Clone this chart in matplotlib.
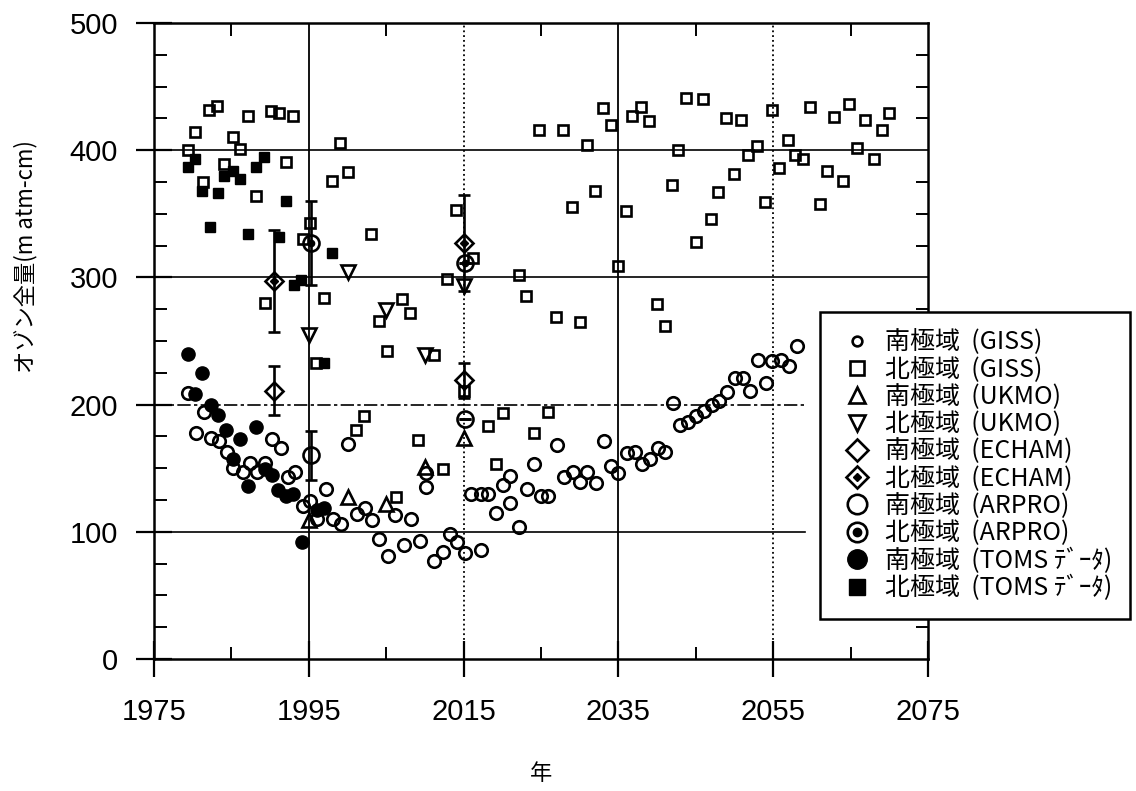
import matplotlib
matplotlib.use('Agg')
import matplotlib.pyplot as plt
from matplotlib.lines import Line2D
from matplotlib.ticker import FixedLocator
from matplotlib.font_manager import FontProperties

plt.rcParams['font.family'] = ['Liberation Sans', 'Noto Sans CJK JP', 'DejaVu Sans']

# ---------------- data (year, total ozone m atm-cm) ----------------
giss_south_year = [1979.4, 1980.4, 1981.4, 1982.3, 1983.4, 1984.4, 1985.2, 1986.5, 1987.4, 1988.3,
                   1989.3, 1990.3, 1991.4, 1992.3, 1993.2, 1994.2, 1995.2, 1996.1, 1997.2, 1998.1,
                   1999.2, 2000.1, 2001.2, 2002.3, 2003.1, 2004.1, 2005.2, 2006.1, 2007.3, 2008.2,
                   2009.3, 2010.1, 2010.1, 2011.2, 2012.3, 2013.2, 2014.2, 2015.2, 2016.0, 2017.2,
                   2017.2, 2018.2, 2019.2, 2020.1, 2021.0, 2021.0, 2022.2, 2023.2, 2024.1, 2025.0,
                   2025.9, 2027.1, 2028.0, 2029.1, 2030.1, 2031.0, 2032.1, 2033.1, 2034.0, 2035.0,
                   2036.1, 2037.1, 2038.0, 2039.1, 2040.1, 2041.0, 2042.0, 2042.9, 2044.0, 2045.0,
                   2046.1, 2047.1, 2048.0, 2049.0, 2050.0, 2051.1, 2052.0, 2053.0, 2054.1, 2054.9,
                   2056.0, 2057.1, 2058.1]
giss_south_val = [209, 178, 194, 174, 171, 163, 150, 147, 154, 147,
                  154, 173, 166, 143, 147, 120, 124, 110, 134, 110,
                  106, 169, 114, 119, 109, 94, 81, 113, 90, 110,
                  93, 146, 135, 77, 84, 98, 92, 83, 130, 86,
                  130, 130, 115, 137, 123, 144, 104, 134, 153, 128,
                  128, 168, 143, 147, 139, 147, 138, 171, 152, 146,
                  162, 163, 153, 157, 166, 163, 201, 184, 186, 191,
                  195, 200, 203, 210, 221, 221, 211, 235, 217, 234,
                  235, 230, 246]

giss_north_year = [1979.4, 1980.3, 1981.3, 1982.1, 1983.1, 1984.1, 1985.2, 1986.1, 1987.1, 1988.2,
                   1989.3, 1990.1, 1991.2, 1992.1, 1993.0, 1994.2, 1995.1, 1995.9, 1997.0, 1998.0,
                   1999.0, 2000.0, 2001.1, 2002.1, 2003.0, 2004.1, 2005.1, 2006.3, 2007.1, 2008.1,
                   2009.1, 2011.2, 2012.3, 2012.9, 2014.0, 2015.0, 2016.2, 2018.2, 2019.2, 2020.1,
                   2022.1, 2023.1, 2024.1, 2024.8, 2025.9, 2027.0, 2027.8, 2029.0, 2030.1, 2030.9,
                   2032.0, 2033.0, 2034.0, 2035.0, 2036.0, 2036.8, 2037.9, 2038.9, 2040.0, 2041.0,
                   2041.9, 2042.7, 2043.7, 2045.0, 2045.9, 2047.0, 2047.9, 2048.9, 2049.9, 2050.8,
                   2051.8, 2052.9, 2053.9, 2054.8, 2055.8, 2056.9, 2057.8, 2058.9, 2059.8, 2061.0,
                   2062.0, 2062.9, 2064.0, 2064.8, 2065.8, 2066.9, 2068.0, 2069.0, 2070.0]
giss_north_val = [400, 414, 375, 432, 435, 389, 410, 401, 427, 364,
                  280, 431, 429, 391, 427, 330, 343, 233, 284, 376,
                  406, 383, 180, 191, 334, 266, 242, 127, 283, 272,
                  172, 239, 149, 299, 353, 211, 315, 183, 153, 193,
                  302, 285, 178, 416, 194, 269, 416, 355, 265, 404,
                  368, 433, 420, 309, 352, 427, 434, 423, 279, 262,
                  373, 400, 441, 328, 440, 346, 367, 425, 381, 424,
                  396, 403, 359, 432, 386, 408, 396, 393, 434, 358,
                  384, 426, 376, 436, 402, 424, 393, 416, 429]

ukmo_south_year = [1995, 2000, 2005, 2010, 2015]
ukmo_south_val = [109, 127, 122, 151, 174]
ukmo_north_year = [1995, 2000, 2005, 2010, 2015]
ukmo_north_val = [255, 304, 274, 239, 293]

echam_south_year = [1990.5, 2015]
echam_south_val = [211, 219]
echam_south_err = [19, 14]
echam_north_year = [1990.5, 2015]
echam_north_val = [297, 327]
echam_north_err = [40, 38]

arpro_south_year = [1995.3, 2015.2]
arpro_south_val = [160, 189]
arpro_south_err = [19, 0]
arpro_north_year = [1995.3, 2015.2]
arpro_north_val = [327, 311]
arpro_north_err = [33, 0]

toms_south_year = [1979.4, 1980.3, 1981.2, 1982.3, 1983.2, 1984.3, 1985.2, 1986.1, 1987.1, 1988.2,
                   1989.3, 1990.2, 1991.0, 1992.1, 1993.0, 1994.1, 1996.1, 1997.0]
toms_south_val = [240, 208, 225, 200, 192, 180, 157, 173, 136, 182,
                  149, 145, 133, 128, 130, 92, 117, 119]
toms_north_year = [1979.4, 1980.3, 1981.2, 1982.2, 1983.2, 1984.1, 1985.2, 1986.1, 1987.1, 1988.2,
                   1989.2, 1991.2, 1992.1, 1993.1, 1994.0, 1997.0, 1998.0]
toms_north_val = [387, 393, 368, 340, 366, 380, 384, 377, 334, 387,
                  395, 332, 360, 294, 298, 233, 319]

labels = ['南極域  (GISS)', '北極域  (GISS)', '南極域  (UKMO)', '北極域  (UKMO)',
          '南極域  (ECHAM)', '北極域  (ECHAM)', '南極域  (ARPRO)', '北極域  (ARPRO)',
          '南極域  (TOMS ﾃﾞｰﾀ)', '北極域  (TOMS ﾃﾞｰﾀ)']
x_ticks = [1975, 1995, 2015, 2035, 2055, 2075]
y_ticks = [0, 100, 200, 300, 400, 500]

# ---------------- figure ----------------
fig = plt.figure(figsize=(11.36, 7.91), dpi=100)
ax = fig.add_axes([0.1356, 0.1669, 0.6813, 0.8040])
ax.set_xlim(1975, 2075)
ax.set_ylim(0, 500)

# grid lines
for xv, ls in [(1995, '-'), (2015, ':'), (2035, '-'), (2055, ':')]:
    ax.axvline(xv, color='k', lw=1.3, ls=ls, zorder=1)
for yv, ls, xmax in [(400, '-', 1.0), (300, '-', 1.0), (200, (0, (8, 2, 2, 2)), 0.841), (100, '-', 0.841)]:
    ax.axhline(yv, xmin=0, xmax=xmax, color='k', lw=1.2, ls=ls, zorder=1)

open_kw = dict(ls='none', mfc='none', mec='k', mew=1.9, zorder=3)

ax.plot(giss_north_year, giss_north_val, marker='s', ms=7.5, **open_kw)
ax.plot(giss_south_year, giss_south_val, marker='o', ms=9, **open_kw)
ax.plot(toms_north_year, toms_north_val, ls='none', marker='s', ms=7.5, mfc='k', mec='k', zorder=3)
ax.plot(toms_south_year, toms_south_val, ls='none', marker='o', ms=9.5, mfc='k', mec='k', zorder=3)
ax.plot(ukmo_south_year, ukmo_south_val, marker='^', ms=10, **open_kw)
ax.plot(ukmo_north_year, ukmo_north_val, marker='v', ms=10, **open_kw)

err_kw = dict(fmt='none', ecolor='k', elinewidth=1.9, capsize=4.5, capthick=1.9, zorder=2)
ax.errorbar(echam_south_year, echam_south_val, yerr=echam_south_err, **err_kw)
ax.errorbar(echam_north_year, echam_north_val, yerr=echam_north_err, **err_kw)
ax.errorbar(arpro_south_year, arpro_south_val, yerr=arpro_south_err, **err_kw)
ax.errorbar(arpro_north_year, arpro_north_val, yerr=arpro_north_err, **err_kw)

ax.plot(echam_south_year, echam_south_val, marker='D', ms=9, **open_kw)
ax.plot(echam_north_year, echam_north_val, marker='D', ms=9, **open_kw)
ax.plot(echam_north_year, echam_north_val, ls='none', marker='D', ms=4, mfc='k', mec='k', zorder=4)
ax.plot(arpro_south_year, arpro_south_val, marker='o', ms=11.5, **open_kw)
ax.plot(arpro_north_year, arpro_north_val, marker='o', ms=11.5, **open_kw)
ax.plot(arpro_north_year, arpro_north_val, ls='none', marker='o', ms=4.5, mfc='k', mec='k', zorder=4)

# ticks
ax.set_xticks(x_ticks)
ax.set_xticklabels([str(v) for v in x_ticks])
ax.set_yticks(y_ticks)
ax.set_yticklabels([str(v) for v in y_ticks])
ax.xaxis.set_minor_locator(FixedLocator([1985, 2005, 2025, 2045, 2065]))
ax.yaxis.set_minor_locator(FixedLocator([v for v in range(25, 500, 25) if v % 100]))
ax.tick_params(which='major', direction='inout', length=26, width=1.6, labelsize=21,
               top=False, right=False)
ax.tick_params(axis='x', which='major', pad=15)
ax.tick_params(axis='y', which='major', pad=13)
ax.tick_params(which='minor', direction='in', length=9, width=1.4, top=True, right=True)
for sp in ax.spines.values():
    sp.set_linewidth(1.8)

ax.set_ylabel('オゾン全量(m atm-cm)', fontsize=16, family=['Noto Sans CJK JP', 'DejaVu Sans'])
ax.yaxis.set_label_coords(-0.151, 0.632)
ax.set_xlabel('年', fontsize=16, family=['Noto Sans CJK JP'])
ax.xaxis.set_label_coords(0.5, -0.162)

# legend
ow = dict(ls='none', mfc='none', mec='k', mew=1.9)
handles = [
    Line2D([], [], marker='o', ms=7, **ow),
    Line2D([], [], marker='s', ms=10, **ow),
    Line2D([], [], marker='^', ms=12, **ow),
    Line2D([], [], marker='v', ms=12, **ow),
    Line2D([], [], marker='D', ms=11, **ow),
    (Line2D([], [], marker='D', ms=11, **ow),
     Line2D([], [], ls='none', marker='D', ms=4.5, mfc='k', mec='k')),
    Line2D([], [], marker='o', ms=14, **ow),
    (Line2D([], [], marker='o', ms=14, **ow),
     Line2D([], [], ls='none', marker='o', ms=6, mfc='k', mec='k')),
    Line2D([], [], ls='none', marker='o', ms=14, mfc='k', mec='k'),
    Line2D([], [], ls='none', marker='s', ms=11, mfc='k', mec='k'),
]
leg = ax.legend(handles, labels, loc='upper left', bbox_to_anchor=(0.861, 0.5456),
                prop=FontProperties(family=['Noto Sans CJK JP'], size=18),
                frameon=True, fancybox=False, edgecolor='k', framealpha=1,
                borderpad=0.7, labelspacing=0.05, handlelength=1.5, handletextpad=0.4,
                borderaxespad=0)
leg.get_frame().set_linewidth(1.8)
leg.set_zorder(10)

fig.savefig('out.png', dpi=100)
